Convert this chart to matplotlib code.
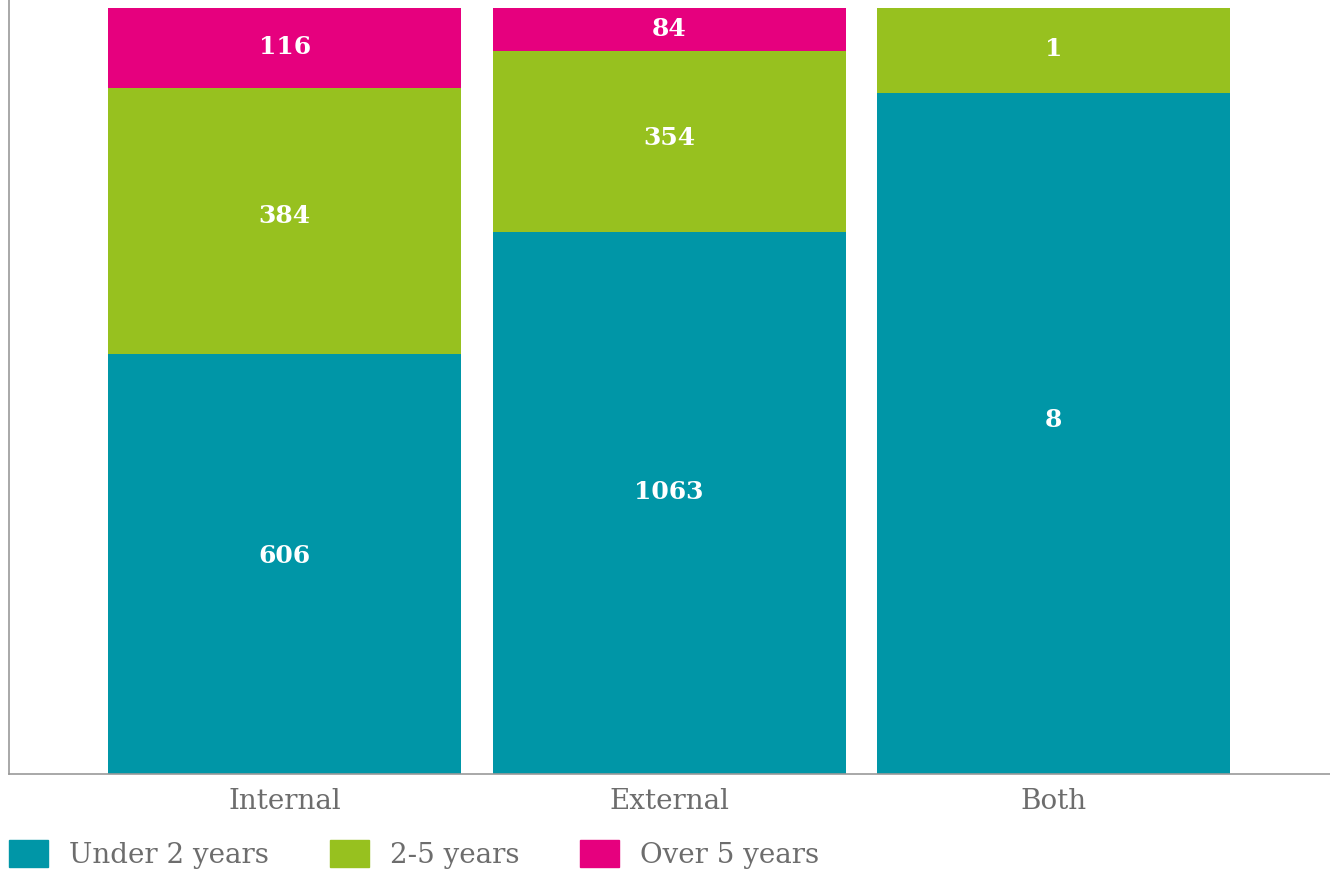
import numpy as np
import matplotlib.pyplot as plt
from matplotlib.patches import Patch

categories = ['Internal', 'External', 'Both']
series = ['Under 2 years', '2-5 years', 'Over 5 years']
under2 = [606, 1063, 8]
two_five = [384, 354, 1]
over5 = [116, 84, 0]

teal = '#0096a7'
green = '#97c11f'
pink = '#e6007e'
colors = [teal, green, pink]

data = np.array([under2, two_five, over5], dtype=float)
share = data / data.sum(axis=0) * 100

fig = plt.figure(figsize=(13.3, 8.71), dpi=100)
ax = fig.add_axes([9/1330, 97/871, 1321/1330, 774/871])

x = np.arange(len(categories))
bottom = np.zeros(len(categories))
for vals, pct, col in zip(data, share, colors):
    ax.bar(x, pct, width=0.918, bottom=bottom, color=col)
    for xi, v, p, b in zip(x, vals, pct, bottom):
        if v > 0:
            # labels sit a touch above centre in the original
            ax.text(xi, b + p/2 + p*0.02, '%d' % v, ha='center', va='center',
                    color='white', fontsize=18, fontweight='bold',
                    family='DejaVu Serif')
    bottom += pct

ax.set_xlim(-0.717, 2.719)
ax.set_ylim(0, 100 * 774/766)
ax.set_xticks(x)
ax.set_xticklabels(categories, family='DejaVu Serif', fontsize=20,
                   color='#6d6d6d')
ax.set_yticks([])
ax.tick_params(axis='x', length=0, pad=10)
for s in ['top', 'right']:
    ax.spines[s].set_visible(False)
for s in ['left', 'bottom']:
    ax.spines[s].set_color('#999999')
    ax.spines[s].set_linewidth(1.2)

handles = [Patch(color=c, label=l) for c, l in zip(colors, series)]
leg = fig.legend(handles=handles, loc='lower left',
                 bbox_to_anchor=(0.0038, -0.0025),
                 ncol=3, frameon=False, handlelength=1.4, handleheight=1.12,
                 handletextpad=0.75, columnspacing=2.2, borderaxespad=0.0,
                 borderpad=0.15, prop={'family': 'DejaVu Serif', 'size': 20})
for t in leg.get_texts():
    t.set_color('#6d6d6d')

fig.savefig('out.png', dpi=100)
